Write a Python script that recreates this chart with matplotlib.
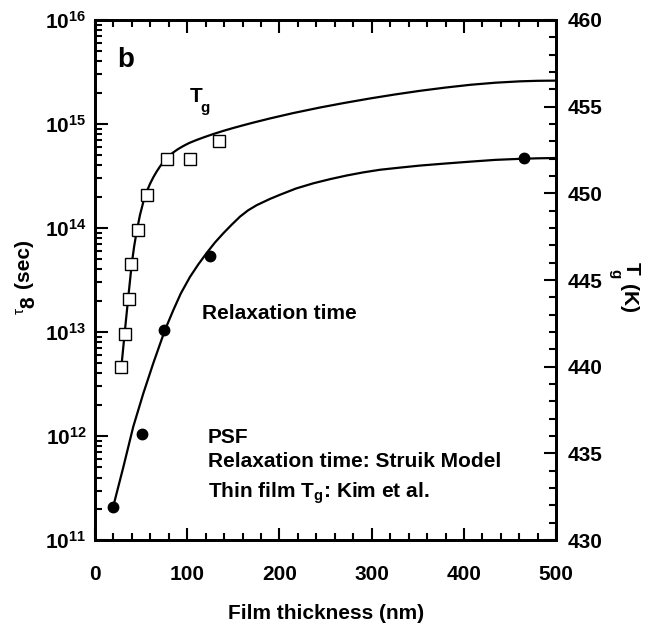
import matplotlib
matplotlib.use("Agg")
import matplotlib.pyplot as plt
import numpy as np
from matplotlib.ticker import LogLocator, MultipleLocator, FuncFormatter, NullFormatter

plt.rcParams['font.family'] = ['Liberation Sans', 'DejaVu Sans']
plt.rcParams['font.weight'] = 'bold'
plt.rcParams['mathtext.fontset'] = 'custom'
plt.rcParams['mathtext.bf'] = 'Liberation Sans:bold'
plt.rcParams['mathtext.rm'] = 'Liberation Sans:bold'

# relaxation time data (filled circles), left axis
h_tau = [20, 50.6, 75, 125, 465]
tau = [2.1e11, 1.04e12, 1.05e13, 5.4e13, 4.7e14]

# relaxation time model curve (Struik), log10(tau)
h_tau_fit = [20, 30.7, 41.5, 52.4, 63.2, 75.9, 84.9, 93, 103, 112, 121.1, 130, 139.2,
             148, 157.3, 166, 175.4, 189.8, 200.7, 218, 236.8, 255, 273, 291, 309,
             330, 352, 380, 407, 434, 461, 480, 500]
logtau_fit = [11.33, 11.70, 12.09, 12.41, 12.70, 13.02, 13.21, 13.37, 13.53, 13.65,
              13.76, 13.86, 13.95, 14.03, 14.11, 14.17, 14.22, 14.28, 14.32, 14.38,
              14.43, 14.47, 14.505, 14.535, 14.56, 14.58, 14.60, 14.62, 14.638, 14.655,
              14.665, 14.67, 14.673]

# thin film Tg (open squares), right axis
h_tg = [28.5, 32.2, 36.5, 39.4, 47.0, 56.7, 77.8, 103, 134.8]
tg = [440.0, 441.9, 443.9, 445.9, 447.9, 449.9, 452.0, 452.0, 453.0]

# Tg curve
h_tg_fit = [29.0, 32.5, 36.1, 39.8, 42.5, 45.2, 48.8, 52.4, 56.1, 59.7, 63.2, 66.8,
            70.5, 74.1, 77.8, 81.3, 84.9, 90, 95.8, 102, 110.3, 119, 128.3, 139,
            150, 161, 171.7, 189.8, 215, 244, 270, 298, 325, 352, 380, 407, 434,
            461, 480, 500]
tg_fit = [440.2, 442.1, 444.0, 445.9, 446.95, 447.8, 448.75, 449.5, 450.1, 450.55,
          450.92, 451.25, 451.55, 451.8, 452.02, 452.2, 452.36, 452.55, 452.73, 452.9,
          453.08, 453.25, 453.42, 453.6, 453.77, 453.93, 454.08, 454.32, 454.63,
          454.95, 455.21, 455.47, 455.7, 455.91, 456.1, 456.26, 456.38, 456.46,
          456.49, 456.5]

fig = plt.figure(figsize=(6.46, 6.23), dpi=100)
ax = fig.add_axes([0.147, 0.133, 0.714, 0.835])
ax2 = ax.twinx()

ax.plot(h_tau_fit, 10 ** np.array(logtau_fit), color='black', lw=1.6)
ax.plot(h_tau, tau, 'o', color='black', ms=7.5)
ax2.plot(h_tg_fit, tg_fit, color='black', lw=1.6)
ax2.plot(h_tg, tg, 's', mfc='white', mec='black', mew=1.0, ms=8)

ax.set_xlim(0, 500)
ax.set_yscale('log')
ax.set_ylim(1e11, 1e16)
ax2.set_ylim(430, 460)

ax.xaxis.set_major_locator(MultipleLocator(100))
ax.xaxis.set_minor_locator(MultipleLocator(20))
ax.yaxis.set_major_locator(LogLocator(base=10, numticks=10))
ax.yaxis.set_minor_locator(LogLocator(base=10, subs=np.arange(2, 10), numticks=20))
ax.yaxis.set_minor_formatter(NullFormatter())
ax.yaxis.set_major_formatter(FuncFormatter(lambda v, p: r'$\mathbf{10^{%d}}$' % round(np.log10(v))))
ax2.yaxis.set_major_locator(MultipleLocator(5))
ax2.yaxis.set_minor_locator(MultipleLocator(1))

ax.tick_params(axis='x', which='both', direction='in', top=True, bottom=True, width=1.5)
ax.tick_params(axis='y', which='both', direction='in', left=True, right=False, width=1.5)
ax2.tick_params(axis='y', which='both', direction='in', right=True, width=1.5)
for a in (ax, ax2):
    a.tick_params(which='major', length=9, labelsize=15, pad=6)
    a.tick_params(which='minor', length=5)
ax.tick_params(axis='x', pad=18)
ax2.tick_params(axis='y', pad=8)
for s in ax.spines.values():
    s.set_linewidth(2)
for s in ax2.spines.values():
    s.set_linewidth(2)
for lab in ax.get_xticklabels() + ax2.get_yticklabels():
    lab.set_fontweight('bold')

ax.set_xlabel('Film thickness (nm)', fontsize=15, fontweight='bold', labelpad=14)

# left y label
fig.text(24 / 646, 1 - 264 / 623, '(sec)', rotation=90, ha='center', va='center',
         fontsize=15, fontweight='bold')
fig.text(29 / 646, 1 - 302 / 623, '8', rotation=90, ha='center', va='center',
         fontsize=15, fontweight='bold')
fig.text(19.5 / 646, 1 - 311 / 623, 'τ', rotation=90, ha='center', va='center',
         fontsize=11, fontweight='normal')

# right y label
fig.text(631 / 646, 1 - 268 / 623, 'T', rotation=270, ha='center', va='center',
         fontsize=15, fontweight='bold')
fig.text(615 / 646, 1 - 274 / 623, 'g', rotation=270, ha='center', va='center',
         fontsize=11, fontweight='bold')
fig.text(628 / 646, 1 - 298 / 623, '(K)', rotation=270, ha='center', va='center',
         fontsize=15, fontweight='bold')

# annotations
ax.text(0.048, 0.91, 'b', transform=ax.transAxes, fontsize=20, fontweight='bold')
ax.text(0.206, 0.842, 'T', transform=ax.transAxes, fontsize=15, fontweight='bold')
ax.text(0.229, 0.823, 'g', transform=ax.transAxes, fontsize=11, fontweight='bold')
ax.text(0.231, 0.425, 'Relaxation time', transform=ax.transAxes, fontsize=15, fontweight='bold')
ax.text(0.245, 0.186, 'PSF', transform=ax.transAxes, fontsize=15, fontweight='bold')
ax.text(0.245, 0.141, 'Relaxation time: Struik Model', transform=ax.transAxes,
        fontsize=15, fontweight='bold')
ax.text(0.245, 0.083, r'Thin film T$_\mathbf{g}$: Kim et al.', transform=ax.transAxes,
        fontsize=15, fontweight='bold')

fig.savefig('out.png', dpi=100)
